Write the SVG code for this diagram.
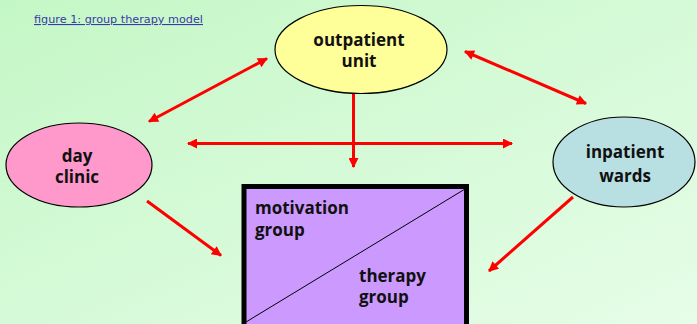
<svg xmlns="http://www.w3.org/2000/svg" width="697" height="324" viewBox="0 0 697 324">
<defs>
<linearGradient id="bg" x1="0" y1="0" x2="1" y2="1">
<stop offset="0" stop-color="#c4f7c6"/>
<stop offset="1" stop-color="#e6fde8"/>
</linearGradient>
<marker id="ah" viewBox="0 0 10 10" refX="9" refY="5" markerWidth="12" markerHeight="10" markerUnits="userSpaceOnUse" orient="auto-start-reverse">
<path d="M0,0 L10,5 L0,10 z" fill="#ff0000"/>
</marker>
<style>
.lbl{font-family:"Open Sans","DejaVu Sans",sans-serif;font-weight:bold;font-size:17px;fill:#111;text-anchor:middle}
.lbl2{font-family:"Open Sans","DejaVu Sans",sans-serif;font-weight:bold;font-size:17px;fill:#111}
.node{stroke:#000;stroke-width:1.2}
.con{stroke:#ff0000;stroke-width:3;fill:none}
</style>
</defs>
<rect x="0" y="0" width="697" height="324" fill="url(#bg)"/>
<text x="34" y="23" font-family="'DejaVu Sans',sans-serif" font-size="11" fill="#3a3aa8" text-decoration="underline" textLength="169" lengthAdjust="spacingAndGlyphs">figure 1: group therapy model</text>
<g id="connectors">
<line class="con" x1="149" y1="121.5" x2="267" y2="58.5" marker-start="url(#ah)" marker-end="url(#ah)"/>
<line class="con" x1="465" y1="51.5" x2="586" y2="103.5" marker-start="url(#ah)" marker-end="url(#ah)"/>
<line class="con" x1="188" y1="143.5" x2="512" y2="143.5" marker-start="url(#ah)" marker-end="url(#ah)"/>
<line class="con" x1="353.5" y1="94" x2="353.5" y2="167" marker-end="url(#ah)"/>
<line class="con" x1="147" y1="201" x2="221" y2="255.5" marker-end="url(#ah)"/>
<line class="con" x1="573" y1="197" x2="489" y2="271" marker-end="url(#ah)"/>
</g>
<g id="outpatient">
<ellipse class="node" cx="361" cy="49.5" rx="86" ry="44" fill="#ffff99"/>
<text class="lbl" x="359" y="46">outpatient</text>
<text class="lbl" x="359" y="67">unit</text>
</g>
<g id="dayclinic">
<ellipse class="node" cx="79" cy="165" rx="73" ry="42" fill="#ff99cc"/>
<text class="lbl" x="77" y="162">day</text>
<text class="lbl" x="77" y="183">clinic</text>
</g>
<g id="inpatient">
<ellipse class="node" cx="624" cy="162" rx="71" ry="45" fill="#b8dfe2"/>
<text class="lbl" x="625" y="158">inpatient</text>
<text class="lbl" x="625" y="182">wards</text>
</g>
<g id="groups">
<rect x="244" y="186.5" width="222.5" height="145" fill="#cc99ff" stroke="#000" stroke-width="5"/>
<line x1="246" y1="322" x2="465" y2="189" stroke="#000" stroke-width="1"/>
<text class="lbl2" x="255" y="214">motivation</text>
<text class="lbl2" x="255" y="236">group</text>
<text class="lbl2" x="359" y="282">therapy</text>
<text class="lbl2" x="359" y="303">group</text>
</g>
</svg>
